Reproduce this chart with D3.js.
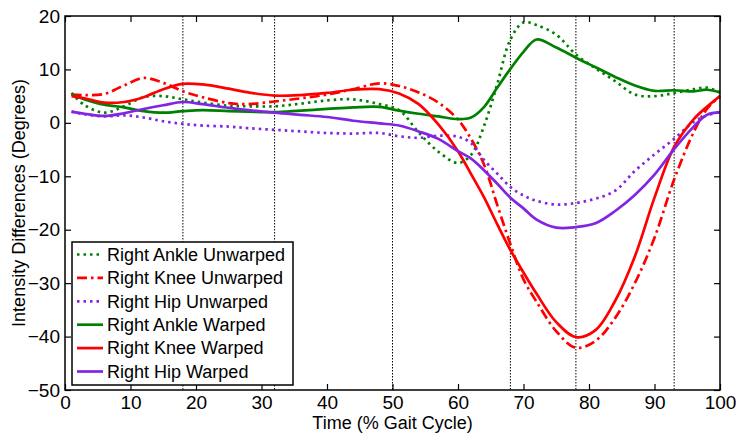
<!DOCTYPE html>
<html>
<head>
<meta charset="utf-8">
<script src="https://cdn.jsdelivr.net/npm/d3@7"></script>
<style>
  body { margin: 0; background: #fff; }
  svg text { font-family: "Liberation Sans", Arial, sans-serif; fill: #000; }
</style>
</head>
<body>
<div id="chart"></div>
<script>
// gait cycle samples (% of cycle)
var time = [1,3,6,9,12,15,18,21,25,28,32,36,40,44,48,51,54,57,60,62,64,66,68,70,72,75,78,81,84,87,90,93,96,98,100];

var ankleUnwarped = [5.6,3.3,1.9,3.1,4.8,5.0,4.4,3.8,3.2,3.1,3.1,3.6,4.2,4.4,3.5,2.4,-1.8,-5.4,-7.5,-6.0,-0.5,7.3,15.6,18.8,18.3,16.5,12.8,10.2,7.8,5.3,5.0,5.6,6.3,6.6,5.7];
var kneeUnwarped  = [5.3,5.2,5.4,7.0,8.4,7.5,5.9,4.8,3.7,3.5,4.0,4.6,5.3,6.3,7.4,6.9,5.7,3.8,0.6,-3.0,-7.9,-15.4,-22.7,-29.3,-33.5,-39.0,-42.1,-40.8,-36.5,-30.0,-21.5,-10.6,-1.7,2.6,5.0];
var hipUnwarped   = [2.1,1.6,1.2,1.4,1.0,0.3,-0.2,-0.5,-0.7,-1.0,-1.3,-1.6,-1.9,-2.0,-1.9,-2.5,-2.8,-2.4,-2.6,-3.8,-7.0,-9.5,-12.0,-13.6,-14.6,-15.3,-15.0,-14.2,-12.7,-9.0,-5.9,-3.0,0.2,1.4,2.0];
var ankleWarped   = [5.3,4.4,3.4,2.9,2.2,1.9,2.2,2.4,2.2,2.1,2.0,2.3,2.6,2.9,3.0,2.3,1.7,1.2,0.7,1.0,3.0,6.6,10.1,13.3,15.6,14.1,12.2,10.4,8.6,7.0,6.0,6.1,5.9,6.2,5.7];
var kneeWarped    = [5.0,4.6,3.8,3.9,4.8,6.3,7.3,7.2,6.4,5.7,5.1,5.2,5.6,6.2,6.3,5.5,3.5,-0.3,-5.3,-9.6,-14.0,-19.0,-23.8,-28.0,-32.0,-37.3,-40.1,-38.8,-33.3,-25.0,-14.0,-4.5,0.7,3.0,5.0];
var hipWarped     = [2.1,1.7,1.3,1.8,2.6,3.3,3.9,3.5,2.8,2.4,1.9,1.5,1.1,0.4,-0.1,-0.5,-1.6,-3.0,-5.3,-6.7,-8.9,-11.4,-14.0,-16.0,-18.1,-19.6,-19.5,-18.8,-16.5,-13.5,-9.7,-4.9,-0.7,1.5,2.0];

var phaseLines = [18, 32, 50, 68, 78, 93];
var xTicks = [0,10,20,30,40,50,60,70,80,90,100];
var yTicks = [-50,-40,-30,-20,-10,0,10,20];

var seriesNames = ["Right Ankle Unwarped","Right Knee Unwarped","Right Hip Unwarped","Right Ankle Warped","Right Knee Warped","Right Hip Warped"];
var seriesValues = [ankleUnwarped, kneeUnwarped, hipUnwarped, ankleWarped, kneeWarped, hipWarped];
var seriesColors = ["#008000","#ff0000","#8224e3","#008000","#ff0000","#8224e3"];
var seriesDash = ["2.5,4","10,4,2.5,4","2.5,4",null,null,null];

var width = 736, height = 433;
var margin = {top: 16, right: 16, bottom: 43, left: 65};
var innerW = width - margin.left - margin.right;
var innerH = height - margin.top - margin.bottom;

var svg = d3.select("#chart").append("svg")
  .attr("width", width).attr("height", height);
var g = svg.append("g").attr("transform", "translate(" + margin.left + "," + margin.top + ")");

var x = d3.scaleLinear().domain([0, 100]).range([0, innerW]);
var y = d3.scaleLinear().domain([-50, 20]).range([innerH, 0]);

// phase markers
g.selectAll(".phase")
  .data(phaseLines)
  .enter().append("line")
  .attr("class", "phase")
  .attr("x1", d => x(d)).attr("x2", d => x(d))
  .attr("y1", 0).attr("y2", innerH)
  .attr("stroke", "#000").attr("stroke-width", 1)
  .attr("stroke-dasharray", "1.5,1.5");

var line = d3.line()
  .x((d, i) => x(time[i]))
  .y(d => y(d))
  .curve(d3.curveCatmullRom.alpha(0.5));

g.selectAll(".series")
  .data(seriesValues)
  .enter().append("path")
  .attr("class", "series")
  .attr("d", d => line(d))
  .attr("fill", "none")
  .attr("stroke", (d, i) => seriesColors[i])
  .attr("stroke-width", 2.7)
  .attr("stroke-dasharray", (d, i) => seriesDash[i]);

// axes, ticks pointing inward on all four sides
var fontSize = 19;
var xAxis = g.append("g").attr("transform", "translate(0," + innerH + ")")
  .call(d3.axisBottom(x).tickValues(xTicks).tickSize(-6).tickPadding(6).tickFormat(d3.format("d")));
var yAxis = g.append("g")
  .call(d3.axisLeft(y).tickValues(yTicks).tickSize(-6).tickPadding(5).tickFormat(d3.format("d")));
g.append("g").call(d3.axisTop(x).tickValues(xTicks).tickSize(-6).tickFormat(""));
g.append("g").attr("transform", "translate(" + innerW + ",0)")
  .call(d3.axisRight(y).tickValues(yTicks).tickSize(-6).tickFormat(""));

g.selectAll(".domain").remove();
g.selectAll(".tick line").attr("stroke", "#000").attr("stroke-width", 1.2);
xAxis.selectAll("text").attr("font-size", fontSize).attr("font-family", null);
yAxis.selectAll("text").attr("font-size", fontSize).attr("font-family", null);

g.append("rect")
  .attr("width", innerW).attr("height", innerH)
  .attr("fill", "none").attr("stroke", "#000").attr("stroke-width", 1.5);

// axis titles
svg.append("text")
  .attr("x", margin.left + innerW / 2).attr("y", 429)
  .attr("text-anchor", "middle").attr("font-size", 18)
  .text("Time (% Gait Cycle)");
svg.append("text")
  .attr("transform", "translate(25," + (margin.top + innerH / 2) + ") rotate(-90)")
  .attr("text-anchor", "middle").attr("font-size", 18)
  .text("Intensity Differences (Degrees)");

// legend
var legend = svg.append("g").attr("transform", "translate(72,242)");
legend.append("rect")
  .attr("width", 221).attr("height", 143)
  .attr("fill", "#fff").attr("stroke", "#000").attr("stroke-width", 1.5);
var rows = legend.selectAll(".row")
  .data(seriesNames)
  .enter().append("g")
  .attr("class", "row")
  .attr("transform", (d, i) => "translate(0," + (12.5 + i * 23.4) + ")");
rows.append("line")
  .attr("x1", 5).attr("x2", 31)
  .attr("stroke", (d, i) => seriesColors[i])
  .attr("stroke-width", 2.7)
  .attr("stroke-dasharray", (d, i) => seriesDash[i]);
rows.append("text")
  .attr("x", 35).attr("dy", "0.35em")
  .attr("font-size", 18)
  .text(d => d);
</script>
</body>
</html>
